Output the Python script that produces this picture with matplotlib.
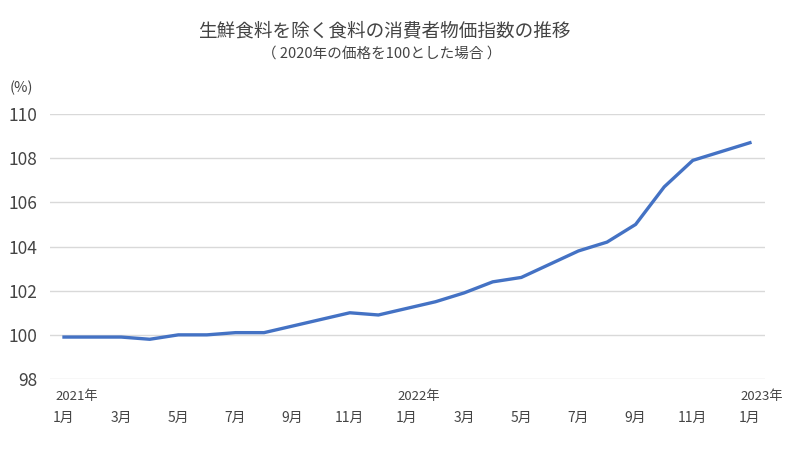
import matplotlib
matplotlib.use("Agg")
import matplotlib.pyplot as plt
import matplotlib.transforms as mtransforms

plt.rcParams['font.family'] = ['Noto Sans CJK JP', 'DejaVu Sans']

# 2021年1月〜2023年1月
months = [1, 2, 3, 4, 5, 6, 7, 8, 9, 10, 11, 12,
          1, 2, 3, 4, 5, 6, 7, 8, 9, 10, 11, 12, 1]
years = ['2021年', '2022年', '2023年']
cpi = [99.9, 99.9, 99.9, 99.8, 100.0, 100.0, 100.1, 100.1, 100.4, 100.7, 101.0, 100.9,
       101.2, 101.5, 101.9, 102.4, 102.6, 103.2, 103.8, 104.2, 105.0, 106.7, 107.9, 108.3,
       108.7]
yticks = [98, 100, 102, 104, 106, 108, 110]


def main():
    fig = plt.figure(figsize=(8, 4.51), dpi=100)
    ax = fig.add_axes([0.0625, 0.1596, 0.8935, 0.5876])

    x = list(range(len(cpi)))
    ax.plot(x, cpi, color="#4472C4", linewidth=2.4, solid_joinstyle="round")

    ax.set_ylim(98, 110)
    ax.set_yticks(yticks)
    ax.set_xlim(-0.49, 24.52)
    ax.grid(axis="y", color="#d9d9d9", linewidth=1)
    ax.set_axisbelow(True)
    for s in ax.spines.values():
        s.set_visible(False)
    ax.tick_params(axis="y", length=0, labelsize=12.5, labelcolor="#444444", pad=9)

    tick_pos = [i for i in x if i % 2 == 0]
    ax.set_xticks(tick_pos)
    ax.set_xticklabels([f"{months[i]}月" for i in tick_pos])
    ax.tick_params(axis="x", length=0, labelsize=10, labelcolor="#444444", pad=23)

    trans = mtransforms.blended_transform_factory(ax.transData, ax.transAxes)
    offset = mtransforms.ScaledTranslation(-9 / 100, 0, fig.dpi_scale_trans)
    for k, yl in enumerate(years):
        ax.text(k * 12, -0.04, yl, transform=trans + offset, ha="left", va="top",
                fontsize=9.5, color="#444444")

    fig.text(0.48, 0.93, "生鮮食料を除く食料の消費者物価指数の推移", ha="center", va="center",
             fontsize=13.4, color="#444444")
    fig.text(0.477, 0.882, "（ 2020年の価格を100とした場合 ）", ha="center", va="center",
             fontsize=10.5, color="#444444")
    fig.text(0.012, 0.805, "(%)", ha="left", va="center", fontsize=10.5, color="#444444")

    fig.savefig("out.png", dpi=100)


if __name__ == "__main__":
    main()
